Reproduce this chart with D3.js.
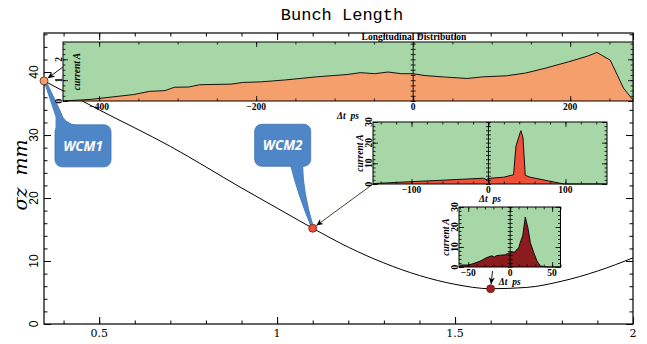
<!DOCTYPE html>
<html><head><meta charset="utf-8">
<script src="https://cdn.jsdelivr.net/npm/d3@7"></script>
<style>body{margin:0;background:#fff}svg{display:block}</style>
</head><body><svg id="c" width="647" height="344"></svg>
<script>
// ---- data ----
const curveX = [0.345,0.5,0.7,0.9,1.0,1.1,1.2,1.3,1.4,1.5,1.6,1.7,1.8,1.9,2.0];
const curveY = [38.6,34.0,28.2,21.6,18.4,15.2,12.2,9.7,7.7,6.3,5.6,5.8,6.8,8.4,10.5];
const pointX = [0.345,1.1,1.6];
const pointY = [38.6,15.2,5.6];
const pointNames = ["WCM1","WCM2",""];
const xTicks = [0.5,1,1.5,2];
const yTicks = [0,10,20,30,40];
const topT = [-446,-410,-356,-336,-316,-304,-286,-272,-232,-217,-193,-163,-123,-84,-67,-49,-32,-15,0,15,40,69,89,119,143,168,198,222,234,251,268,280];
const topI = [0,0.08,0.31,0.46,0.50,0.66,0.67,0.78,0.81,0.89,0.92,1.01,1.16,1.27,1.36,1.31,1.39,1.31,1.31,1.22,1.15,1.08,1.16,1.21,1.34,1.57,1.88,2.15,2.33,1.96,0.61,0.05];
const midT = [-150,-146,-6.5,-3,2,20,32.6,35.7,41.3,42.2,44.8,47.8,54,98,154];
const midI = [0,0.3,2.8,2.2,2.8,3.3,4.5,18.3,25,25.8,22.5,4.2,3.3,0,0];
const botT = [-61,-58,-50,-44,-36,-28,-22,-19,-16,-12,-6,-2,2,6,8,10,12,15,18,21,24,28,32,36,44,60];
const botI = [0,1,1,1.7,2.9,4.7,5.6,5.0,5.7,5.9,6.1,6.9,7.3,7.6,8.9,9.3,12.3,15.7,25,19.9,12.3,7.3,3,0.5,0,0];
const topXTicks = [-400,-200,0,200];
const midXTicks = [-100,0,100];
const botXTicks = [-50,0,50];
const topYTicks = [0,1,2];
const smallYTicks = [0,10,20,30];

// ---- layout ----
const svg = d3.select('#c');
const M = {l:44, r:633, t:33, b:324};
const x = d3.scaleLinear([0.345,2.0],[M.l,M.r]);
const y = d3.scaleLinear([0,46.2],[M.b,M.t]);
const GREEN = '#a7d6a7';

// title
svg.append('text').attr('x',342).attr('y',20).attr('text-anchor','middle')
  .attr('font-family','Liberation Mono, Courier New, monospace').attr('font-size',17).text('Bunch Length');

// main frame
svg.append('rect').attr('x',M.l).attr('y',M.t).attr('width',M.r-M.l).attr('height',M.b-M.t)
  .attr('fill','none').attr('stroke','#000').attr('stroke-width',1.2);

function ticksG(axisFn, scale, vals, size, tx, ty){
  const g = svg.append('g').attr('transform',`translate(${tx},${ty})`)
    .call(axisFn(scale).tickValues(vals).tickSizeInner(size).tickSizeOuter(0).tickFormat(''));
  g.select('.domain').remove();
  g.selectAll('line').attr('stroke','#000').attr('stroke-width',1);
  return g;
}
const xMinor = d3.range(4,21).map(d=>d/10);
const yMinor = d3.range(0,47,2);
ticksG(d3.axisBottom,x,xMinor,-3.5,0,M.b);
ticksG(d3.axisBottom,x,xTicks,-7,0,M.b);
ticksG(d3.axisTop,x,xMinor,-3.5,0,M.t);
ticksG(d3.axisTop,x,xTicks,-7,0,M.t);
ticksG(d3.axisLeft,y,yMinor,-3.5,M.l,0);
ticksG(d3.axisLeft,y,yTicks,-7,M.l,0);
ticksG(d3.axisRight,y,yMinor,-3.5,M.r,0);
ticksG(d3.axisRight,y,yTicks,-7,M.r,0);

svg.append('g').selectAll('text').data(xTicks).join('text')
  .attr('x',d=>x(d)).attr('y',337).attr('text-anchor','middle')
  .attr('font-family','DejaVu Serif, serif').attr('font-size',11).text(d=>d3.format('')(d));
svg.append('g').selectAll('text').data(yTicks).join('text')
  .attr('transform',d=>`translate(${M.l-6},${y(d)}) rotate(-90)`).attr('text-anchor','middle')
  .attr('font-family','Liberation Sans, Arial, sans-serif').attr('font-size',12).text(d=>d);
svg.append('text').attr('transform',`translate(27,${175}) rotate(-90)`).attr('text-anchor','middle')
  .attr('font-family','DejaVu Serif, serif').attr('font-style','italic').attr('font-size',19)
  .style('white-space','pre').text('σz  mm');

// main curve
const pts = curveX.map((d,i)=>[d,curveY[i]]);
svg.append('path').datum(pts).attr('fill','none').attr('stroke','#000').attr('stroke-width',1)
  .attr('d',d3.line().x(d=>x(d[0])).y(d=>y(d[1])).curve(d3.curveMonotoneX));

// callouts
const BLUE = '#4f86c7', BLUE_D = '#3d6fb0';
function callout(px,py,bx,by,bw,bh,tail,label){
  const g = svg.append('g');
  g.append('path').attr('d',tail).attr('fill',BLUE).attr('stroke',BLUE_D).attr('stroke-width',0.8);
  g.append('rect').attr('x',bx).attr('y',by).attr('width',bw).attr('height',bh).attr('rx',7)
    .attr('fill',BLUE).attr('stroke',BLUE_D).attr('stroke-width',0.8);
  g.append('path').attr('d',tail.replace(/Z$/,'')).attr('fill',BLUE).attr('stroke','none');
  g.append('text').attr('x',bx+bw/2).attr('y',by+bh/2+5).attr('text-anchor','middle')
    .attr('fill','#fff').attr('font-family','Open Sans, Liberation Sans, sans-serif')
    .attr('font-weight','bold').attr('font-style','italic').attr('font-size',13.5).text(label);
}
{
  const px=x(pointX[0]), py=y(pointY[0]);
  const bx=px+11, by=py+44, bw=56, bh=42;
  const tail=`M${px},${py} L${bx+1},${by-8} Q${bx+1},${by} ${bx+1},${by+12} L${bx+22},${by+1} Q${bx+8},${by-2} ${bx+6},${by-12} L${px+2},${py} Z`;
  callout(px,py,bx,by,bw,bh,tail,pointNames[0]);
}
{
  const px=x(pointX[1]), py=y(pointY[1]);
  const bx=px-58, by=py-104, bw=56, bh=42;
  const tail=`M${bx+36},${by+bh-1} Q${bx+42},${by+bh+25} ${px-1},${py} L${px+1},${py} Q${bx+48},${by+bh+25} ${bx+48},${by+bh-1} Z`;
  callout(px,py,bx,by,bw,bh,tail,pointNames[1]);
}

// insets
const defs = svg.append('defs');
defs.append('marker').attr('id','arr').attr('viewBox','0 0 10 10').attr('refX',10).attr('refY',5)
  .attr('markerWidth',7).attr('markerHeight',7).attr('orient','auto').attr('markerUnits','userSpaceOnUse')
  .append('path').attr('d','M0,0.5 L10,5 L0,9.5 L3,5 Z').attr('fill','#000');

function inset(c){
  const g = svg.append('g');
  const xs = d3.scaleLinear(c.xDom,[c.x0,c.x1]);
  const ys = d3.scaleLinear(c.yDom,[c.y1,c.y0]);
  g.append('rect').attr('x',c.x0).attr('y',c.y0).attr('width',c.x1-c.x0).attr('height',c.y1-c.y0).attr('fill',GREEN);
  const data = c.t.map((d,i)=>[d,c.i[i]]);
  g.append('path').datum(data).attr('fill',c.fill)
    .attr('d',d3.area().x(d=>xs(d[0])).y0(ys(0)).y1(d=>ys(d[1])));
  g.append('path').datum(data).attr('fill','none').attr('stroke','#000').attr('stroke-width',0.9)
    .attr('d',d3.line().x(d=>xs(d[0])).y(d=>ys(d[1])));
  const tk = (fn,sc,vals,size,tx,ty)=>{
    const a = g.append('g').attr('transform',`translate(${tx},${ty})`)
      .call(fn(sc).tickValues(vals).tickSizeInner(size).tickSizeOuter(0).tickFormat(''));
    a.select('.domain').remove(); a.selectAll('line').attr('stroke','#000').attr('stroke-width',0.8);
  };
  tk(d3.axisBottom,xs,c.xMinor,-2.5,0,c.y1); tk(d3.axisBottom,xs,c.xMajor,-5,0,c.y1);
  tk(d3.axisTop,xs,c.xMinor,-2.5,0,c.y0); tk(d3.axisTop,xs,c.xMajor,-5,0,c.y0);
  tk(d3.axisLeft,ys,c.yMinor,-2.5,c.x0,0); tk(d3.axisLeft,ys,c.yMajor,-5,c.x0,0);
  tk(d3.axisRight,ys,c.yMinor,-2.5,c.x1,0); tk(d3.axisRight,ys,c.yMajor,-5,c.x1,0);
  // zero line with ticks on both sides
  g.append('line').attr('x1',xs(0)).attr('x2',xs(0)).attr('y1',c.y0).attr('y2',c.y1).attr('stroke','#000').attr('stroke-width',0.9);
  tk(d3.axisLeft,ys,c.yMinor,2.5,xs(0),0); tk(d3.axisRight,ys,c.yMinor,2.5,xs(0),0);
  g.append('rect').attr('x',c.x0).attr('y',c.y0).attr('width',c.x1-c.x0).attr('height',c.y1-c.y0)
    .attr('fill','none').attr('stroke','#000').attr('stroke-width',1);
  const f = {'font-family':'Liberation Serif, Times New Roman, serif','font-weight':'bold','font-size':9.5};
  const st = (s)=>{for(const k in f) s.attr(k,f[k]); return s;};
  st(g.append('g').selectAll('text').data(c.xMajor).join('text')
    .attr('x',d=>xs(d)).attr('y',c.y1+9).attr('text-anchor','middle').text(d=>d3.format('')(d)));
  st(g.append('g').selectAll('text').data(c.yMajor).join('text')
    .attr('transform',d=>`translate(${c.x0-1.5},${ys(d)}) rotate(-90)`).attr('text-anchor','middle').text(d=>d));
  st(g.append('text').attr('x',(c.x0+c.x1)/2).attr('y',c.y1+17.5).attr('text-anchor','middle')
    .attr('font-style','italic').style('white-space','pre').text('Δt  ps'));
  st(g.append('text').attr('transform',`translate(${c.x0+c.yLabOff},${(c.y0+c.y1)/2}) rotate(-90)`)
    .attr('text-anchor','middle').attr('font-style','italic').attr('font-size',9).text('current A'));
  return {xs,ys};
}

const topIn = inset({x0:63,x1:633,y0:42,y1:101,xDom:[-446,280],yDom:[0,2.83],t:topT,i:topI,fill:'#f59f6c',
  xMajor:topXTicks,xMinor:d3.range(-400,281,50),yMajor:topYTicks,yMinor:d3.range(0,2.83,0.25),yLabOff:17});
svg.append('text').attr('x',414).attr('y',39.5).attr('text-anchor','middle')
  .attr('font-family','Liberation Serif, Times New Roman, serif').attr('font-weight','bold').attr('font-size',9.5)
  .text('Longitudinal Distribution');
const midIn = inset({x0:373,x1:607,y0:122,y1:184,xDom:[-150,154],yDom:[0,30],t:midT,i:midI,fill:'#f04f38',
  xMajor:midXTicks,xMinor:d3.range(-140,151,20),yMajor:smallYTicks,yMinor:d3.range(0,31,2),yLabOff:-10});
const botIn = inset({x0:459,x1:560.5,y0:207,y1:267,xDom:[-61,60],yDom:[0,30],t:botT,i:botI,fill:'#8c1b20',
  xMajor:botXTicks,xMinor:d3.range(-60,61,10),yMajor:smallYTicks,yMinor:d3.range(0,31,2),yLabOff:-10});

// arrows from insets to points
function arrow(sx,sy,i,col){
  const px=x(pointX[i]), py=y(pointY[i]);
  const dx=sx-px, dy=sy-py, L=Math.hypot(dx,dy);
  svg.append('line').attr('x1',sx).attr('y1',sy).attr('x2',px+dx/L*4.5).attr('y2',py+dy/L*4.5)
    .attr('stroke',col).attr('stroke-width',0.9).attr('marker-end','url(#arr)');
}
arrow(63,67,0,'#000');
arrow(373,184,1,'#3a2418');
arrow(492.5,271,2,'#000');

// points
const pcol = ['#f59f6c','#f04f38','#a01e22'];
svg.append('g').selectAll('circle').data(pointX).join('circle')
  .attr('cx',d=>x(d)).attr('cy',(d,i)=>y(pointY[i])).attr('r',4)
  .attr('fill',(d,i)=>pcol[i]).attr('stroke','#5a2a20').attr('stroke-width',0.8);
</script></body></html>
